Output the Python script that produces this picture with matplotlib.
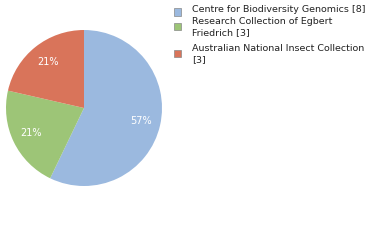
import matplotlib
matplotlib.use("Agg")
import matplotlib.pyplot as plt
from matplotlib.patches import Rectangle

labels = ["Centre for Biodiversity Genomics [8]",
          "Research Collection of Egbert\nFriedrich [3]",
          "Australian National Insect Collection\n[3]"]
values = [8, 3, 3]
colors = ["#9bb9df", "#9dc577", "#d9745a"]

W, H = 380, 240
fig = plt.figure(figsize=(W / 100, H / 100), dpi=100)

cx, cy, r = 84, 108, 78
ax = fig.add_axes([(cx - r) / W, (H - cy - r) / H, 2 * r / W, 2 * r / H])
wedges, texts, autotexts = ax.pie(values, colors=colors, startangle=90, counterclock=False,
                                  autopct=lambda p: f"{p:.0f}%", pctdistance=0.75,
                                  wedgeprops=dict(linewidth=0),
                                  textprops=dict(color="white", fontsize=7))
ax.set_xlim(-1, 1)
ax.set_ylim(-1, 1)
ax.set_aspect("auto")
ax.axis("off")

# legend
sq_y = [12, 26, 53]
txt_y = [5, 17, 44]
for lab, col, sy, ty in zip(labels, colors, sq_y, txt_y):
    fig.patches.append(Rectangle((174 / W, 1 - (sy + 3.5) / H), 7 / W, 7 / H,
                                 transform=fig.transFigure, facecolor=col,
                                 edgecolor="#888888", linewidth=0.5))
    fig.text(192 / W, 1 - ty / H, lab, fontsize=6.8, color="#222222",
             va="top", ha="left", linespacing=1.3)

fig.savefig("out.png", dpi=100)
